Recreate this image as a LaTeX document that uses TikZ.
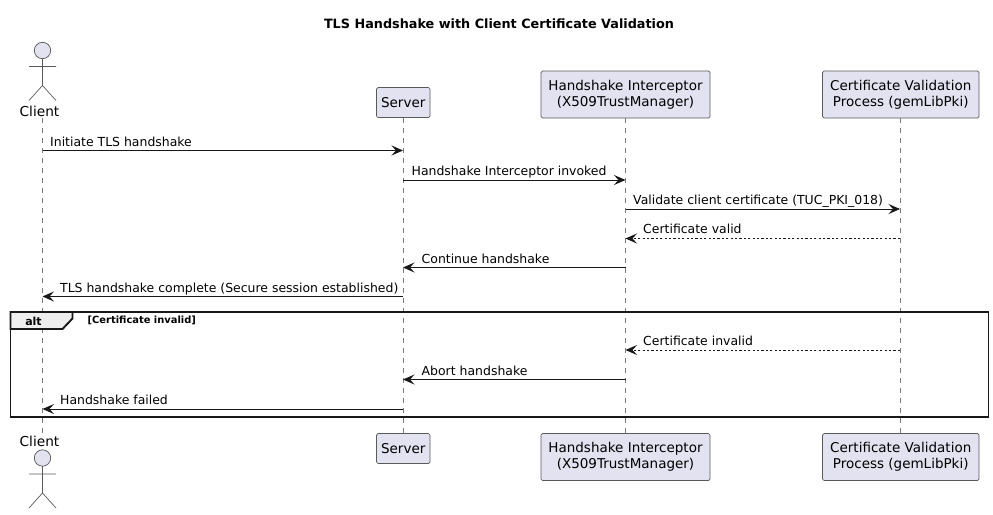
\documentclass[tikz,border=0pt]{standalone}
\usepackage{fontspec}
\setmainfont{DejaVu Sans}
\usetikzlibrary{arrows.meta}
\definecolor{partfill}{HTML}{E2E2F0}
\definecolor{partline}{HTML}{5A5A5A}
\definecolor{lifeln}{HTML}{7A7A7A}
\definecolor{tabfill}{HTML}{EEEEEE}
\definecolor{ink}{HTML}{181818}
\tikzset{
  x=1pt,y=-1pt,
  part/.style={draw=partline,fill=partfill,rounded corners=1.5pt,line width=0.7pt,align=center,inner sep=0pt,font=\fontsize{13.5}{16}\selectfont,text=black},
  lifeline/.style={draw=lifeln,line width=0.7pt,dash pattern=on 5pt off 5pt},
  msg/.style={draw=ink,line width=1pt,-{Stealth[length=11.5pt,width=10pt,inset=4.5pt]}},
  rep/.style={msg,dash pattern=on 2.2pt off 2.2pt},
  lab/.style={anchor=base west,inner sep=0pt,font=\fontsize{12.45}{14}\selectfont,text=black},
  actorln/.style={draw=partline,line width=0.7pt},
  framepen/.style={draw=ink,line width=1.9pt},
}
\begin{document}
\begin{tikzpicture}
\useasboundingbox (0,0) rectangle (993,514);
\node[anchor=base,inner sep=0pt,font=\bfseries\fontsize{12.8}{14}\selectfont] (title) at (499,28.5) {TLS Handshake with Client Certificate Validation};
% participants
\node[part,minimum width=53.5pt,minimum height=30pt] (st) at (403.25,102.5) {Server};
\node[part,minimum width=169pt,minimum height=47pt] (it) at (625.5,94.5) {Handshake Interceptor\\(X509TrustManager)};
\node[part,minimum width=156.5pt,minimum height=47pt] (ct) at (900.75,94.5) {Certificate Validation\\Process (gemLibPki)};
\node[part,minimum width=53.5pt,minimum height=30pt] (sb) at (403.25,448.5) {Server};
\node[part,minimum width=169pt,minimum height=47pt] (ib) at (625.5,457) {Handshake Interceptor\\(X509TrustManager)};
\node[part,minimum width=156.5pt,minimum height=47pt] (cb) at (900.75,457) {Certificate Validation\\Process (gemLibPki)};
\node[anchor=base,inner sep=0pt,font=\fontsize{13.7}{16}\selectfont] (clt) at (39.5,116) {Client};
\node[anchor=base,inner sep=0pt,font=\fontsize{13.7}{16}\selectfont] (clb) at (39.5,446) {Client};
% lifelines
\coordinate (c1) at (42.5,118);
\coordinate (c2) at (42.5,433);
\draw[lifeline] (c1) -- (c2);
\draw[lifeline] (st.south) -- (sb.north);
\draw[lifeline] (it.south) -- (ib.north);
\draw[lifeline] (ct.south) -- (cb.north);
% actors
\foreach \yy in {42.5,450}{
  \begin{scope}[shift={(0,\yy)}]
  \draw[actorln,fill=partfill] (42.5,8) circle (8.2);
  \draw[actorln] (42.5,16.2) -- (42.5,43) (29,24) -- (56,24) (29,58) -- (42.5,43) -- (56,58);
  \end{scope}
}
% message anchors
\foreach \n/\yy in {1/150.5,2/180,3/209,4/238.5,5/267.5,6/296.5,7/350,8/379.5,9/409}{
  \coordinate (C\n) at (42.5,\yy);
  \coordinate (S\n) at (403,\yy);
  \coordinate (I\n) at (625.5,\yy);
  \coordinate (V\n) at (900,\yy);
}
\draw[msg] (C1) -- (S1);
\draw[msg] (S2) -- (I2);
\draw[msg] (I3) -- (V3);
\draw[rep] (V4) -- (I4);
\draw[msg] (I5) -- (S5);
\draw[msg] (S6) -- (C6);
\draw[rep] (V7) -- (I7);
\draw[msg] (I8) -- (S8);
\draw[msg] (S9) -- (C9);
\node[lab] (m1) at (50,146) {Initiate TLS handshake};
\node[lab] (m2) at (411.5,175) {Handshake Interceptor invoked};
\node[lab] (m3) at (633,204) {Validate client certificate (TUC\_PKI\_018)};
\node[lab] (m4) at (643,233) {Certificate valid};
\node[lab] (m5) at (421.5,263) {Continue handshake};
\node[lab] (m6) at (60,292) {TLS handshake complete (Secure session established)};
\node[lab] (m7) at (643,345) {Certificate invalid};
\node[lab] (m8) at (421.5,375) {Abort handshake};
\node[lab] (m9) at (60,404) {Handshake failed};
% alt frame
\draw[framepen,fill=tabfill] (10.5,312) -- (72.5,312) -- (72.5,318.5) -- (62.5,329) -- (10.5,329) -- cycle;
\draw[framepen] (10.5,312) rectangle (988.5,417);
\node[anchor=base,inner sep=0pt,font=\bfseries\fontsize{11}{14}\selectfont] (alt) at (33.5,325) {alt};
\node[anchor=base west,inner sep=0pt,font=\bfseries\fontsize{9.9}{12}\selectfont] (grd) at (87.5,323.5) {[Certificate invalid]};
\end{tikzpicture}
\end{document}
